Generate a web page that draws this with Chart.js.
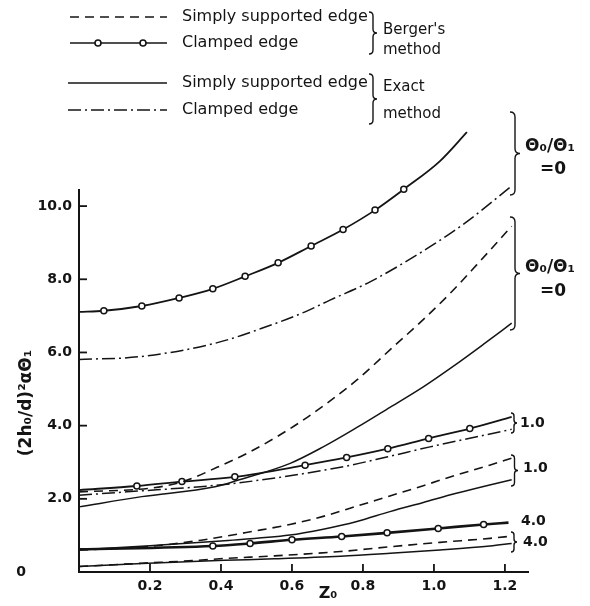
<!DOCTYPE html>
<html>
<head>
<meta charset="utf-8">
<script src="https://cdn.jsdelivr.net/npm/chart.js@4"></script>
<style>
  body { margin: 0; background: #fff; }
  #wrap { width: 590px; height: 606px; position: relative; }
</style>
</head>
<body>
<div id="wrap"><canvas id="shellGraph"></canvas></div>
<script>
// tick values
const xTicks = [0.2, 0.4, 0.6, 0.8, 1.0, 1.2];
const yTicks = [0, 2, 4, 6, 8, 10];

// Theta0/Theta1 = 0
const zBergerClamped0 = [0, 0.07, 0.177, 0.282, 0.377, 0.468, 0.561, 0.654, 0.744, 0.834, 0.915, 1.017, 1.093];
const vBergerClamped0 = [7.11, 7.14, 7.27, 7.49, 7.74, 8.08, 8.45, 8.91, 9.36, 9.89, 10.46, 11.23, 12.02];
const zExactClamped0 = [0, 0.166, 0.383, 0.515, 0.637, 0.707, 0.82, 0.989, 1.092, 1.219];
const vExactClamped0 = [5.81, 5.88, 6.25, 6.66, 7.11, 7.43, 7.93, 8.89, 9.57, 10.55];
const zBergerSimple0 = [0, 0.208, 0.293, 0.389, 0.473, 0.558, 0.642, 0.783, 0.876, 0.969, 1.054, 1.121, 1.219];
const vBergerSimple0 = [2.19, 2.3, 2.47, 2.86, 3.24, 3.7, 4.22, 5.25, 6.07, 6.89, 7.7, 8.4, 9.45];
const zExactSimple0 = [0, 0.177, 0.383, 0.445, 0.595, 0.688, 0.783, 0.876, 0.97, 1.054, 1.139, 1.219];
const vExactSimple0 = [1.78, 2.06, 2.33, 2.5, 2.97, 3.42, 3.95, 4.5, 5.06, 5.62, 6.22, 6.8];

// Theta0/Theta1 = 1.0
const zBergerClamped1 = [0, 0.163, 0.29, 0.439, 0.637, 0.754, 0.87, 0.985, 1.101, 1.219];
const vBergerClamped1 = [2.24, 2.35, 2.47, 2.6, 2.92, 3.13, 3.37, 3.65, 3.92, 4.24];
const zExactClamped1 = [0, 0.135, 0.435, 0.745, 0.87, 0.989, 1.219];
const vExactClamped1 = [2.1, 2.19, 2.42, 2.88, 3.15, 3.42, 3.9];
const zBergerSimple1 = [0, 0.2, 0.344, 0.495, 0.594, 0.688, 0.783, 0.876, 0.97, 1.063, 1.157, 1.219];
const vBergerSimple1 = [0.6, 0.7, 0.87, 1.12, 1.3, 1.52, 1.8, 2.08, 2.36, 2.65, 2.92, 3.11];
const zExactSimple1 = [0, 0.2, 0.4, 0.594, 0.688, 0.783, 0.876, 0.97, 1.063, 1.157, 1.219];
const vExactSimple1 = [0.6, 0.72, 0.85, 1.01, 1.17, 1.38, 1.65, 1.9, 2.15, 2.38, 2.52];

// Theta0/Theta1 = 4.0
const zBergerClamped4 = [0, 0.377, 0.482, 0.6, 0.74, 0.868, 1.012, 1.14, 1.21];
const vBergerClamped4 = [0.62, 0.71, 0.78, 0.88, 0.97, 1.07, 1.19, 1.3, 1.35];
const zSimple4 = [0, 0.177, 0.32, 0.41, 0.55, 0.737, 0.877, 1.017, 1.158, 1.219];
const vBergerSimple4 = [0.15, 0.24, 0.31, 0.37, 0.44, 0.56, 0.69, 0.81, 0.92, 0.98];
const vExactSimple4 = [0.15, 0.23, 0.29, 0.32, 0.36, 0.43, 0.51, 0.6, 0.71, 0.78];

const ink = "#141414";
const dashed = [9, 6];
const dashDot = [13, 4, 2, 4];

function pts(zs, vs) {
  return zs.map((z, i) => ({ x: z, y: vs[i] }));
}

// one curve; markers = circles on inner points (Berger clamped curves)
function curve(zs, vs, dash, width, markers) {
  return {
    data: pts(zs, vs),
    borderColor: ink,
    borderWidth: width,
    borderDash: dash,
    cubicInterpolationMode: "monotone",
    clip: false,
    pointRadius: markers ? (c) => (c.dataIndex === 0 || c.dataIndex === zs.length - 1 ? 0 : 3) : 0,
    pointBackgroundColor: "#fff",
    pointBorderColor: ink,
    pointBorderWidth: 1.5,
  };
}

function line(c, x1, y1, x2, y2) {
  c.beginPath();
  c.moveTo(x1, y1);
  c.lineTo(x2, y2);
  c.stroke();
}

// curly bracket "}" from top to bot
function brace(c, x, top, bot, w) {
  const mid = (top + bot) / 2;
  const h = w / 2;
  c.beginPath();
  c.moveTo(x, top);
  c.quadraticCurveTo(x + h, top, x + h, top + h);
  c.lineTo(x + h, mid - h);
  c.quadraticCurveTo(x + h, mid, x + w, mid);
  c.quadraticCurveTo(x + h, mid, x + h, mid + h);
  c.lineTo(x + h, bot - h);
  c.quadraticCurveTo(x + h, bot, x, bot);
  c.stroke();
}

const decor = {
  id: "decor",
  afterDraw(chart) {
    const c = chart.ctx;
    const xs = chart.scales.x;
    const ys = chart.scales.y;
    c.save();
    c.strokeStyle = ink;
    c.fillStyle = ink;
    c.lineWidth = 1.8;
    c.setLineDash([]);

    // inward tick marks
    yTicks.forEach((v) => {
      const py = ys.getPixelForValue(v);
      line(c, xs.left, py, xs.left + 8, py);
    });
    xTicks.forEach((v) => {
      const px = xs.getPixelForValue(v);
      line(c, px, ys.bottom, px, ys.bottom - 8);
    });

    c.textBaseline = "middle";
    c.font = "bold 14px 'DejaVu Sans'";
    c.textAlign = "center";
    c.fillText("0", 21, ys.getPixelForValue(0));

    // axis titles
    c.font = "bold 16px 'DejaVu Sans'";
    c.fillText("Z₀", 328, 594);
    c.save();
    c.translate(27, 403);
    c.rotate(-Math.PI / 2);
    c.font = "bold 17px 'DejaVu Sans'";
    c.fillText("(2h₀/d)²αΘ₁", 0, 0);
    c.restore();

    // legend samples
    c.lineWidth = 1.6;
    c.setLineDash(dashed);
    line(c, 70, 17, 167, 17);
    c.setLineDash([]);
    line(c, 70, 43, 167, 43);
    [98, 143].forEach((px) => {
      c.beginPath();
      c.arc(px, 43, 3, 0, Math.PI * 2);
      c.fillStyle = "#fff";
      c.fill();
      c.stroke();
    });
    c.fillStyle = ink;
    line(c, 68, 83, 167, 83);
    c.setLineDash(dashDot);
    line(c, 68, 110, 167, 110);
    c.setLineDash([]);

    c.textAlign = "left";
    c.font = "16px 'DejaVu Sans'";
    c.fillText("Simply supported edge", 182, 17);
    c.fillText("Clamped edge", 182, 43);
    c.fillText("Simply supported edge", 182, 83);
    c.fillText("Clamped edge", 182, 110);
    c.font = "15px 'DejaVu Sans'";
    c.fillText("Berger's", 383, 30);
    c.fillText("method", 383, 50);
    c.fillText("Exact", 383, 87);
    c.fillText("method", 383, 114);

    c.lineWidth = 1.4;
    brace(c, 369, 12, 54, 8);
    brace(c, 369, 74, 124, 8);

    // right hand group labels
    brace(c, 510, 112, 195, 10);
    brace(c, 510, 217, 330, 10);
    brace(c, 511, 413, 433, 6);
    brace(c, 511, 455, 486, 7);
    brace(c, 511, 532, 552, 6);

    c.font = "bold 17px 'DejaVu Sans'";
    c.fillText("Θ₀/Θ₁", 525, 147);
    c.fillText("=0", 540, 170);
    c.fillText("Θ₀/Θ₁", 525, 268);
    c.fillText("=0", 540, 292);
    c.font = "bold 14px 'DejaVu Sans'";
    c.fillText("1.0", 520, 423);
    c.fillText("1.0", 523, 468);
    c.fillText("4.0", 521, 521);
    c.fillText("4.0", 523, 542);
    c.restore();
  },
};

const ctx = document.getElementById("shellGraph").getContext("2d");
const chart = new Chart(ctx, {
  type: "line",
  data: {
    datasets: [
      curve(zBergerClamped0, vBergerClamped0, [], 1.8, true),
      curve(zExactClamped0, vExactClamped0, dashDot, 1.5, false),
      curve(zBergerSimple0, vBergerSimple0, dashed, 1.6, false),
      curve(zExactSimple0, vExactSimple0, [], 1.5, false),
      curve(zBergerClamped1, vBergerClamped1, [], 1.8, true),
      curve(zExactClamped1, vExactClamped1, dashDot, 1.5, false),
      curve(zBergerSimple1, vBergerSimple1, dashed, 1.6, false),
      curve(zExactSimple1, vExactSimple1, [], 1.5, false),
      curve(zBergerClamped4, vBergerClamped4, [], 2.6, true),
      curve(zSimple4, vBergerSimple4, dashed, 1.6, false),
      curve(zSimple4, vExactSimple4, [], 1.5, false),
    ],
  },
  options: {
    responsive: true,
    maintainAspectRatio: false,
    animation: false,
    layout: { padding: { top: 190, right: 62, left: 0, bottom: 0 } },
    plugins: { legend: { display: false }, tooltip: { enabled: false } },
    scales: {
      x: {
        type: "linear",
        min: 0,
        max: 1.265,
        afterBuildTicks: (s) => { s.ticks = xTicks.map((v) => ({ value: v })); },
        afterFit: (s) => { s.height = 34; },
        grid: { display: false, drawTicks: false },
        border: { color: ink, width: 2 },
        ticks: {
          padding: 6,
          color: ink,
          font: { family: "DejaVu Sans", size: 14, weight: "bold" },
          callback: (v) => v.toFixed(1),
        },
      },
      y: {
        min: 0,
        max: 10.44,
        afterBuildTicks: (s) => { s.ticks = yTicks.map((v) => ({ value: v })); },
        afterFit: (s) => { s.width = 79; },
        grid: { display: false, drawTicks: false },
        border: { color: ink, width: 2 },
        ticks: {
          padding: 7,
          color: ink,
          font: { family: "DejaVu Sans", size: 14, weight: "bold" },
          callback: (v) => (v === 0 ? "" : v.toFixed(1)),
        },
      },
    },
  },
  plugins: [decor],
});
</script>
</body>
</html>
